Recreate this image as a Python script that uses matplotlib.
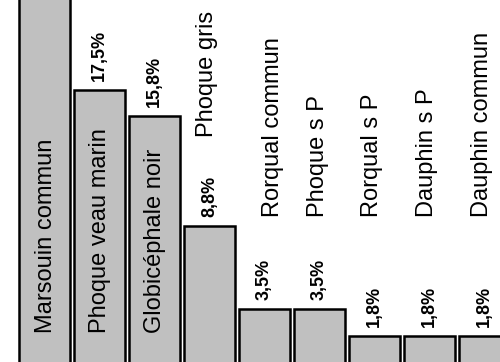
import matplotlib
matplotlib.use("Agg")
import matplotlib.pyplot as plt

categories = ["Marsouin commun", "Phoque veau marin", "Globicéphale noir",
              "Phoque gris", "Rorqual commun", "Phoque s P", "Rorqual s P",
              "Dauphin s P", "Dauphin commun"]
values = [45.5, 17.5, 15.8, 8.8, 3.5, 3.5, 1.8, 1.8, 1.8]
pct_labels = ["45,5%", "17,5%", "15,8%", "8,8%", "3,5%", "3,5%", "1,8%", "1,8%", "1,8%"]
inside = [True, True, True, False, False, False, False, False, False]

plt.rcParams['font.family'] = ['Liberation Sans', 'DejaVu Sans']

fig = plt.figure(figsize=(5.0, 3.62), dpi=100)
ax = fig.add_axes([0, 0, 1, 1])
x = list(range(len(categories)))
ax.bar(x, values, width=0.92, color="#c0c0c0", edgecolor="black", linewidth=1.8)

ymax = 23.23
ax.set_xlim(-0.809, 8.282)
ax.set_ylim(0.128, ymax)
ax.axis("off")

label_dx = [0.03, 0.01, 0.01, -0.05, 0.15, -0.03, -0.04, -0.04, -0.05]
for i, (cat, v, p, ins) in enumerate(zip(categories, values, pct_labels, inside)):
    if v + 4 < ymax:
        ax.text(i, v + 0.57, p, rotation=90, ha="center", va="bottom",
                fontsize=13, fontweight="bold")
    if ins:
        ly = 1.98
    else:
        ly = max(v + 5.7, 9.4)
    ax.text(i + label_dx[i], ly, cat, rotation=90, ha="center", va="bottom",
            fontsize=17)

fig.savefig("out.png", dpi=100)
